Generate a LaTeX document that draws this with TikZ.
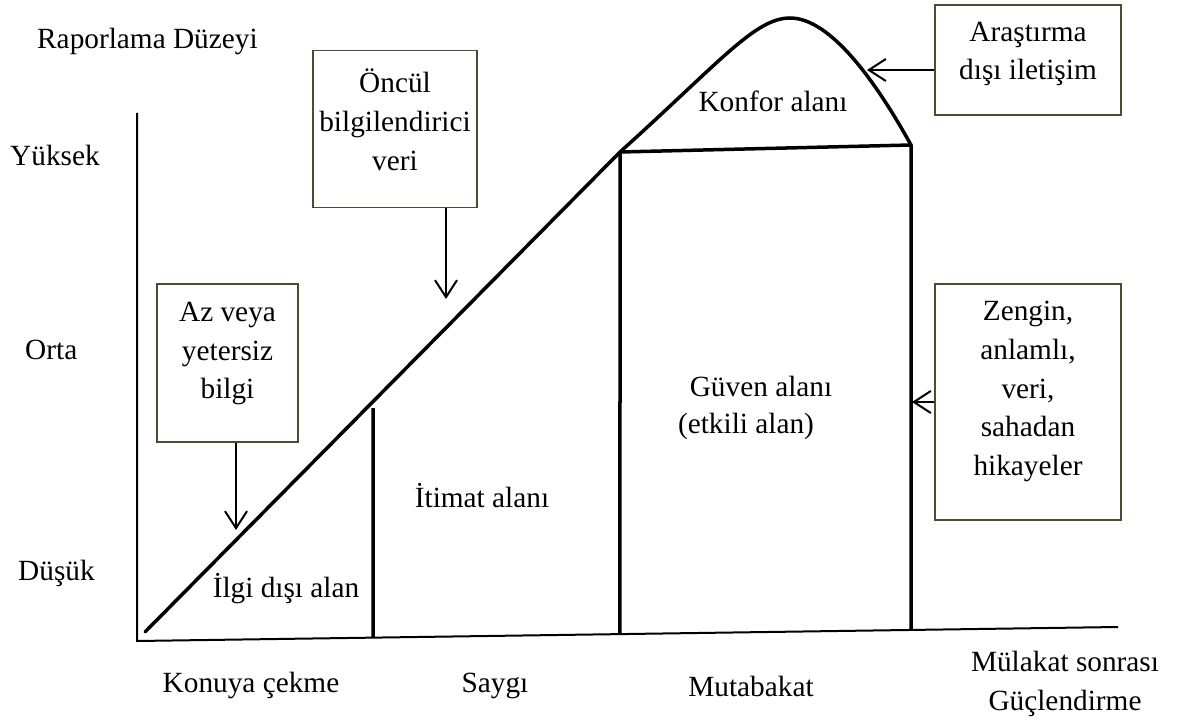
\documentclass[tikz,border=0pt]{standalone}
\usepackage{fontspec}
\setmainfont{Liberation Serif}
\usetikzlibrary{arrows.meta,calc}

\definecolor{boxline}{RGB}{80,74,52}

\tikzset{
  curveline/.style={line width=3.5pt, line cap=round, line join=round},
  axisline/.style={line width=2pt},
  infobox/.style={draw=boxline, line width=1.5pt, rectangle, inner sep=0pt, fill=none},
  txt/.style={inner sep=0pt, font=\fontsize{29.3}{38.8}\selectfont},
  boxtxt/.style={txt, align=center},
  pointer/.style={line width=2pt, -{Straight Barb[length=17pt,width=22pt,line width=2pt]}}
}

\begin{document}
\begin{tikzpicture}[x=1pt,y=-1pt]
\useasboundingbox (0,0) rectangle (1178,722);

% axes
\coordinate (origin) at (137,641);
\coordinate (ytop) at (137,113);
\coordinate (xend) at (1118,627);
\draw[axisline] (ytop) -- (origin) -- (xend);

% reporting-level curve
\coordinate (start) at (145,632);
\coordinate (comfortL) at (620,152);
\coordinate (peak) at (790,18);
\coordinate (comfortR) at (911,145);
\draw[curveline] (start) -- (comfortL)
  .. controls (720,62) and (755,18) .. (peak)
  .. controls (830,18) and (875,80) .. (comfortR);
\draw[curveline] (comfortL) -- (comfortR);

% zone separators
\draw[curveline, line cap=butt] (373,408) -- ($(origin)!{(373-137)/981}!(xend)$);
\draw[curveline, line cap=butt] (comfortL) -- ($(origin)!{(620-137)/981}!(xend)$);
\draw[curveline, line cap=butt] (comfortR) -- ($(origin)!{(911-137)/981}!(xend)$);

% axis labels
\node[txt, anchor=base west] (level) at (37,49) {Raporlama Düzeyi};
\node[txt, anchor=base west] (high) at (10,166) {Yüksek};
\node[txt, anchor=base west] (mid) at (25,359) {Orta};
\node[txt, anchor=base west] (low) at (18,580) {Düşük};

\node[txt, anchor=base] (stage1) at (251,692) {Konuya çekme};
\node[txt, anchor=base] (stage2) at (495,692) {Saygı};
\node[txt, anchor=base] (stage3) at (751,696) {Mutabakat};
\node[boxtxt, anchor=center] (stage4) at (1065,684) {Mülakat sonrası\\Güçlendirme};

% zone labels
\node[txt, anchor=base] (zone1) at (286,597) {İlgi dışı alan};
\node[txt, anchor=base] (zone2) at (482,507) {İtimat alanı};
\node[txt, anchor=base] (zone3a) at (761,396) {Güven alanı};
\node[txt, anchor=base] (zone3b) at (746,433) {(etkili alan)};
\node[txt, anchor=base] (zone4) at (773,112) {Konfor alanı};

% annotation boxes
\node[infobox, minimum width=141pt, minimum height=158pt] (lowbox) at (227.5,363) {};
\node[boxtxt] (lowtxt) at (227.5,353.5) {Az veya\\yetersiz\\bilgi};

\node[infobox, minimum width=164pt, minimum height=157pt] (prebox) at (395,129) {};
\node[boxtxt] (pretxt) at (395,120) {Öncül\\bilgilendirici\\veri};

\node[infobox, minimum width=186pt, minimum height=110pt] (outbox) at (1028,60) {};
\node[boxtxt] (outtxt) at (1028,54) {Araştırma\\dışı iletişim};

\node[infobox, minimum width=186pt, minimum height=236pt] (richbox) at (1028,402) {};
\node[boxtxt] (richtxt) at (1028,391.5) {Zengin,\\anlamlı,\\veri,\\sahadan\\hikayeler};

% arrows from the boxes to the curve
\coordinate (lowtip) at (236,530);
\coordinate (pretip) at (446,299);
\coordinate (outtip) at (867,70);
\coordinate (richtip) at (912,402);
\draw[pointer] (lowbox.south -| lowtip) -- (lowtip);
\draw[pointer] (prebox.south -| pretip) -- (pretip);
\draw[pointer] (outbox.west |- outtip) -- (outtip);
\draw[pointer] (richbox.west |- richtip) -- (richtip);
\end{tikzpicture}
\end{document}
